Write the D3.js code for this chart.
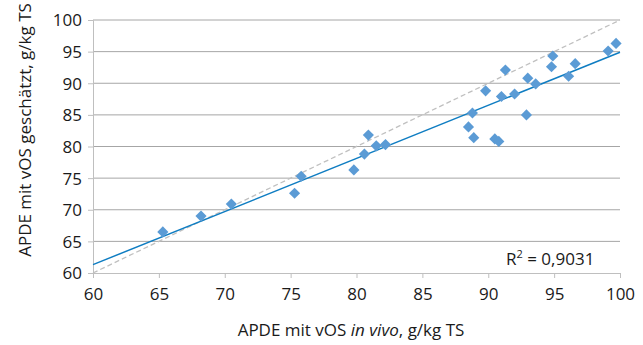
<!DOCTYPE html>
<html>
<head>
<meta charset="utf-8">
<script src="https://cdn.jsdelivr.net/npm/d3@7"></script>
<style>
  body { margin: 0; background: #fff; }
  svg { display: block; font-family: "Open Sans", sans-serif; }
</style>
</head>
<body>
<div id="container"></div>
<script>
const width = 643, height = 345;
const margin = { top: 20, right: 23, bottom: 72, left: 93 };

// APDE in vivo (x) vs. estimated (y), g/kg TS
const inVivo = [65.3, 68.2, 70.5, 75.3, 75.8, 79.8, 80.6, 80.9, 81.5, 82.2,
    88.5, 88.9, 88.8, 90.5, 90.8, 89.8, 91.0, 91.3, 92.0, 92.9,
    93.0, 93.6, 94.9, 94.8, 96.1, 96.6, 99.1, 99.7];
const geschaetzt = [66.5, 69.0, 70.9, 72.6, 75.3, 76.3, 78.8, 81.8, 80.1, 80.3,
    83.1, 81.4, 85.3, 81.2, 80.8, 88.8, 87.9, 92.1, 88.3, 85.0,
    90.8, 89.9, 94.3, 92.6, 91.1, 93.1, 95.1, 96.3];
const xTicks = [60, 65, 70, 75, 80, 85, 90, 95, 100];
const yTicks = [60, 65, 70, 75, 80, 85, 90, 95, 100];
const r2Label = "0,9031";

const data = inVivo.map((v, i) => ({ x: v, y: geschaetzt[i] }));

const x = d3.scaleLinear().domain([60, 100]).range([margin.left, width - margin.right]);
const y = d3.scaleLinear().domain([60, 100]).range([height - margin.bottom, margin.top]);

const svg = d3.select("#container").append("svg")
    .attr("width", width)
    .attr("height", height);

// horizontal gridlines
svg.append("g")
    .selectAll("line")
    .data(yTicks.filter(d => d > 60))
    .join("line")
    .attr("x1", x(60)).attr("x2", x(100))
    .attr("y1", d => y(d)).attr("y2", d => y(d))
    .attr("stroke", "#a6a6a6")
    .attr("stroke-width", 1);

// axes
const xAxis = svg.append("g")
    .attr("transform", `translate(0,${y(60)})`)
    .call(d3.axisBottom(x).tickValues(xTicks).tickSize(5).tickPadding(10));
const yAxis = svg.append("g")
    .attr("transform", `translate(${x(60)},0)`)
    .call(d3.axisLeft(y).tickValues(yTicks).tickSize(5).tickPadding(6));

[xAxis, yAxis].forEach(a => {
    a.selectAll(".domain").attr("stroke", "#bfbfbf");
    a.selectAll(".tick line").attr("stroke", "#bfbfbf");
    a.selectAll(".tick text")
        .attr("fill", "#1a1a1a")
        .style("font-size", "17px")
        .style("font-family", "'Open Sans', sans-serif");
});
yAxis.selectAll(".tick text").attr("dy", "0.35em");

// 1:1 line
svg.append("line")
    .attr("x1", x(60)).attr("y1", y(60))
    .attr("x2", x(100)).attr("y2", y(100))
    .attr("stroke", "#c0c0c0")
    .attr("stroke-width", 1.3)
    .attr("stroke-dasharray", "5,3");

// linear trend (least squares)
const mx = d3.mean(data, d => d.x), my = d3.mean(data, d => d.y);
const slope = d3.sum(data, d => (d.x - mx) * (d.y - my)) / d3.sum(data, d => (d.x - mx) ** 2);
const intercept = my - slope * mx;
svg.append("line")
    .attr("x1", x(60)).attr("y1", y(intercept + slope * 60))
    .attr("x2", x(100)).attr("y2", y(intercept + slope * 100))
    .attr("stroke", "#0f7dc2")
    .attr("stroke-width", 1.5);

// markers
svg.append("g")
    .selectAll("path")
    .data(data)
    .join("path")
    .attr("d", d3.symbol(d3.symbolSquare, 62))
    .attr("transform", d => `translate(${x(d.x)},${y(d.y)}) rotate(45)`)
    .attr("fill", "#5b9bd5");

// R² label
const r2 = svg.append("text")
    .attr("x", 506)
    .attr("y", 265)
    .attr("fill", "#1a1a1a")
    .style("font-size", "17px");
r2.append("tspan").text("R");
r2.append("tspan").attr("dy", -7).style("font-size", "11px").text("2");
r2.append("tspan").attr("dy", 7).text(" = " + r2Label);

// axis titles
const xt = svg.append("text")
    .attr("x", 351)
    .attr("y", 336)
    .attr("text-anchor", "middle")
    .attr("fill", "#1a1a1a")
    .style("font-size", "17px");
xt.append("tspan").text("APDE mit vOS ");
xt.append("tspan").style("font-style", "italic").text("in vivo");
xt.append("tspan").text(", g/kg TS");

svg.append("text")
    .attr("transform", "translate(31,130) rotate(-90)")
    .attr("text-anchor", "middle")
    .attr("fill", "#1a1a1a")
    .style("font-size", "17px")
    .text("APDE mit vOS geschätzt, g/kg TS");
</script>
</body>
</html>
